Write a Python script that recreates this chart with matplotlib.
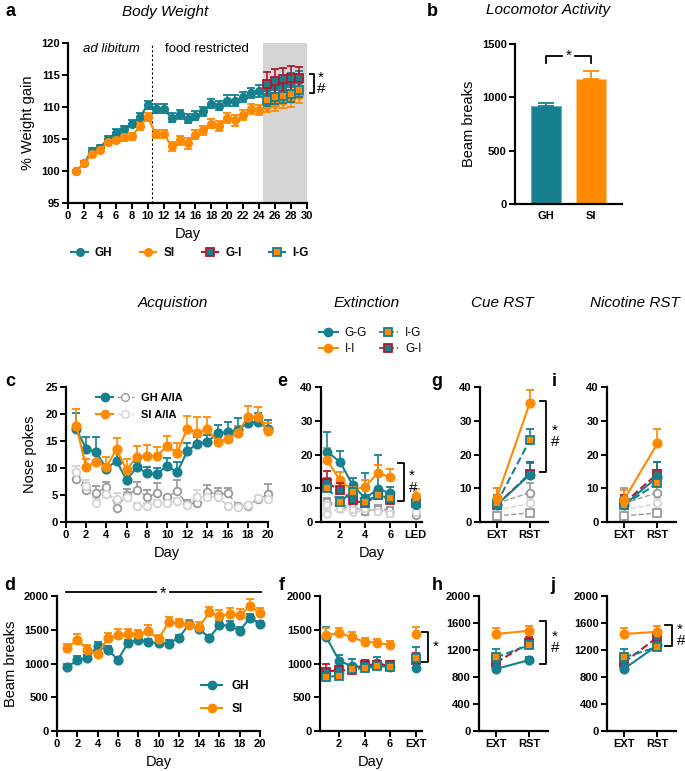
import numpy as np
import matplotlib
matplotlib.use("Agg")
import matplotlib.pyplot as plt
from matplotlib.lines import Line2D
from matplotlib.legend_handler import HandlerTuple

plt.rcParams['font.family'] = ['Liberation Sans', 'DejaVu Sans']

TEAL = '#17808f'
ORANGE = '#ff8a00'
RED = '#b3182d'
GRAY = '#9a9a9a'
LGRAY = '#d4d4d4'

# ---- data -------------------------------------------------------------
# a: body weight
bw_days = list(range(1, 30))
gh_bw = [100.0, 101.2, 103.2, 103.6, 105.0, 106.0, 106.5, 107.4, 108.4, 110.3,
         109.7, 109.7, 108.3, 108.9, 108.2, 108.6, 109.3, 110.5, 110.2, 111.0,
         111.0, 111.6, 112.2, 112.5, 113.0, 113.3, 113.6, 113.9, 114.2]
gh_bw_err = [0.0, 0.3, 0.4, 0.4, 0.5, 0.6, 0.6, 0.6, 0.6, 0.6, 0.7, 0.7, 0.7, 0.7, 0.7,
             0.7, 0.7, 0.7, 0.7, 0.8, 0.8, 0.8, 0.8, 0.9, 1.2, 1.3, 1.3, 1.4, 1.4]
si_bw = [100.0, 101.2, 102.6, 103.3, 104.5, 104.8, 105.3, 105.4, 107.0, 108.4,
         105.8, 105.8, 103.9, 104.8, 104.3, 105.7, 106.4, 107.4, 107.0, 108.3,
         107.9, 108.7, 109.7, 109.5, 110.2, 110.5, 110.9, 111.2, 111.9]
si_bw_err = [0.0, 0.3, 0.4, 0.4, 0.4, 0.5, 0.6, 0.6, 0.6, 0.6, 0.6, 0.6, 0.7, 0.7, 0.8,
             0.7, 0.7, 0.7, 0.8, 0.8, 0.8, 0.8, 0.8, 0.8, 1.0, 1.1, 1.1, 1.2, 1.2]
swap_days = [25, 26, 27, 28, 29]
gi_bw = [113.6, 114.1, 114.3, 114.5, 114.5]
gi_bw_err = [1.9, 1.9, 1.8, 1.9, 1.8]
ig_bw = [111.1, 111.5, 111.7, 112.0, 112.7]
ig_bw_err = [1.0, 1.1, 1.1, 1.2, 1.2]

# b: locomotor activity
loco_groups = ['GH', 'SI']
loco = [915, 1175]
loco_err = [35, 70]

# c: acquisition nose pokes
acq_days = list(range(1, 21))
gh_act = [17.2, 13.6, 12.9, 9.9, 11.3, 7.8, 10.1, 9.1, 8.9, 10.4,
          9.2, 13.1, 14.5, 14.9, 16.4, 16.6, 17.0, 18.4, 18.6, 17.2]
gh_act_err = [3.0, 2.2, 2.8, 0.0, 1.5, 1.5, 1.0, 1.0, 1.1, 1.5,
              2.0, 1.5, 1.2, 1.3, 1.6, 1.9, 2.2, 1.2, 1.5, 1.6]
si_act = [17.8, 10.2, 11.2, 10.2, 13.5, 9.6, 12.1, 12.2, 12.2, 14.1,
          12.8, 17.3, 16.5, 17.2, 14.8, 15.4, 16.5, 19.4, 19.5, 16.9]
si_act_err = [3.2, 1.5, 1.5, 1.8, 2.0, 2.0, 1.9, 2.1, 1.7, 1.8,
              1.8, 2.3, 2.9, 2.3, 1.0, 1.5, 1.2, 2.0, 1.8, 1.5]
gh_inact = [8.0, 5.9, 5.4, 6.5, 2.6, 5.0, 6.0, 4.7, 5.3, 4.6,
            5.7, 3.3, 3.6, 5.6, 5.1, 5.3, 3.0, 3.0, 4.2, 5.2]
gh_inact_err = [1.5, 1.3, 1.2, 1.0, 1.2, 1.2, 1.5, 1.2, 2.0, 0.3,
                2.0, 0.8, 1.0, 1.2, 1.2, 1.0, 0.4, 0.4, 0.5, 1.8]
si_inact = [9.3, 6.7, 3.6, 5.1, 4.3, 4.7, 3.0, 3.0, 3.5, 3.6,
            3.9, 3.1, 4.7, 4.6, 4.7, 3.0, 2.7, 3.1, 4.4, 4.3]
si_inact_err = [1.0, 1.0, 0.8, 0.6, 1.0, 0.8, 0.6, 0.6, 0.5, 0.5,
                0.5, 0.6, 1.2, 1.2, 1.0, 0.5, 0.6, 0.5, 0.5, 0.5]

# d: acquisition beam breaks
gh_beam = [948, 1047, 1086, 1254, 1205, 1057, 1304, 1353, 1314, 1304,
           1294, 1378, 1580, 1516, 1378, 1570, 1560, 1481, 1679, 1580]
gh_beam_err = [40, 60, 40, 60, 50, 40, 50, 40, 50, 40,
               60, 50, 60, 40, 50, 60, 70, 60, 50, 50]
si_beam = [1225, 1353, 1205, 1136, 1373, 1417, 1432, 1432, 1481, 1358,
           1615, 1595, 1570, 1541, 1758, 1699, 1738, 1714, 1847, 1743]
si_beam_err = [60, 80, 70, 50, 80, 90, 80, 60, 90, 60,
               70, 70, 80, 80, 80, 90, 80, 90, 110, 80]

# e: extinction nose pokes (days 1-6, then LED test)
ext_days = [1, 2, 3, 4, 5, 6]
gg_ext = [20.8, 17.8, 11.0, 7.0, 9.8, 8.5]
gg_ext_err = [6.0, 3.2, 2.0, 7.5, 10.0, 2.0]
ii_ext = [18.3, 12.3, 9.5, 10.5, 14.5, 13.3]
ii_ext_err = [3.5, 2.5, 1.5, 2.0, 2.5, 2.5]
ig_ext = [10.0, 6.0, 9.0, 6.0, 8.0, 7.0]
ig_ext_err = [3.0, 1.5, 2.0, 2.0, 2.0, 1.5]
gi_ext = [11.5, 9.5, 6.5, 5.5, 8.0, 6.5]
gi_ext_err = [3.5, 2.0, 1.5, 1.5, 1.5, 1.5]
in_c1_ext = [5.5, 4.5, 4.0, 3.5, 3.5, 3.0]
in_c2_ext = [2.5, 4.0, 3.0, 3.0, 4.0, 3.0]
in_s1_ext = [6.0, 5.0, 4.5, 3.0, 4.0, 3.5]
in_s2_ext = [5.0, 4.0, 3.5, 4.0, 3.0, 2.5]
led_vals = {'gg': 5.0, 'ii': 7.7, 'ig': 5.5, 'gi': 5.5, 'c1': 2.0, 'c2': 3.0}
led_err = {'gg': 2.5, 'ii': 2.0, 'ig': 1.5, 'gi': 1.5, 'c1': 6.0, 'c2': 1.0}

# f: extinction beam breaks
gg_fb = [1390, 1040, 960, 950, 1010, 950]
gg_fb_err = [150, 90, 100, 70, 80, 60]
ii_fb = [1420, 1450, 1390, 1320, 1310, 1270]
ii_fb_err = [100, 80, 70, 60, 60, 60]
ig_fb = [800, 820, 920, 930, 960, 950]
ig_fb_err = [60, 60, 60, 60, 60, 60]
gi_fb = [880, 900, 900, 980, 980, 980]
gi_fb_err = [110, 70, 80, 70, 60, 60]
ext_fb = {'gg': 930, 'ii': 1440, 'ig': 1080, 'gi': 1050}
ext_fb_err = {'gg': 80, 'ii': 100, 'ig': 170, 'gi': 100}

# g / i: reinstatement nose pokes (EXT, RST)
rst_x = ['EXT', 'RST']
cue_ii = [7.0, 35.2]; cue_ii_err = [3.0, 4.0]
cue_ig = [5.5, 24.2]; cue_ig_err = [2.5, 3.5]
cue_gi = [5.0, 14.3]; cue_gi_err = [2.5, 3.5]
cue_gg = [5.0, 14.0]; cue_gg_err = [2.5, 3.5]
cue_c1 = [5.5, 8.7]; cue_c1_err = [4.5, 3.0]
cue_c2 = [3.5, 5.5]; cue_c2_err = [2.0, 1.5]
cue_s1 = [1.8, 2.7]; cue_s1_err = [0.5, 0.5]
nic_ii = [6.5, 23.3]; nic_ii_err = [3.0, 4.3]
nic_ig = [5.0, 11.5]; nic_ig_err = [2.5, 3.0]
nic_gi = [5.5, 14.3]; nic_gi_err = [2.5, 3.5]
nic_gg = [5.0, 13.3]; nic_gg_err = [2.5, 4.5]
nic_c1 = [5.5, 8.7]; nic_c1_err = [4.5, 3.0]
nic_c2 = [3.5, 5.5]; nic_c2_err = [2.0, 1.5]
nic_s1 = [1.8, 2.7]; nic_s1_err = [0.5, 0.5]

# h / j: reinstatement beam breaks
hb_ii = [1437, 1486]; hb_ii_err = [90, 70]
hb_ig = [1090, 1274]; hb_ig_err = [130, 90]
hb_gi = [1012, 1309]; hb_gi_err = [120, 90]
hb_gg = [919, 1052]; hb_gg_err = [60, 50]
jb_ii = [1437, 1470]; jb_ii_err = [90, 80]
jb_ig = [1090, 1245]; jb_ig_err = [130, 80]
jb_gi = [1012, 1390]; jb_gi_err = [120, 80]
jb_gg = [919, 1270]; jb_gg_err = [60, 60]

# ---- styles ------------------------------------------------------------
STY = {
    'gg': dict(color=TEAL, ls='-', marker='o', mfc=TEAL, mec=TEAL, ec=TEAL),
    'ii': dict(color=ORANGE, ls='-', marker='o', mfc=ORANGE, mec=ORANGE, ec=ORANGE),
    'ig': dict(color=TEAL, ls='--', marker='s', mfc=ORANGE, mec=TEAL, ec=TEAL),
    'gi': dict(color=RED, ls='--', marker='s', mfc=TEAL, mec=RED, ec=RED),
    'c1': dict(color=GRAY, ls='--', marker='o', mfc='white', mec=GRAY, ec=GRAY),
    'c2': dict(color=LGRAY, ls='--', marker='o', mfc='white', mec=LGRAY, ec=LGRAY),
    's1': dict(color=GRAY, ls='--', marker='s', mfc='white', mec=GRAY, ec=GRAY),
    's2': dict(color=LGRAY, ls='--', marker='s', mfc='white', mec=LGRAY, ec=LGRAY),
}

W, H = 685, 771
fig = plt.figure(figsize=(W / 100, H / 100), dpi=100)


def add_ax(l, t, r, b):
    return fig.add_axes([l / W, 1 - b / H, (r - l) / W, (b - t) / H])


def series(ax, x, y, err, kind, ms=5.5, lw=1.5, up=True, z=3, ls=None):
    st = STY[kind]
    err = np.asarray(err, dtype=float)
    yerr = [np.zeros_like(err), err] if up else err
    ax.errorbar(x, y, yerr=yerr, color=st['color'], ls=st['ls'] if ls is None else ls,
                lw=lw, marker=st['marker'], ms=ms, mfc=st['mfc'], mec=st['mec'],
                mew=1.3, ecolor=st['ec'], elinewidth=1.2, capsize=3, capthick=1.2,
                zorder=z, clip_on=False)


def prism(ax):
    for s in ['top', 'right']:
        ax.spines[s].set_visible(False)
    for s in ['left', 'bottom']:
        ax.spines[s].set_linewidth(1.6)
    ax.tick_params(width=1.4, length=4, labelsize=8, pad=2)


def bracket(ax, x, y0, y1, txt, dx=0.15, tx=None):
    ax.plot([x - dx, x, x, x - dx], [y0, y0, y1, y1], color='black', lw=1.3, clip_on=False)
    ym = (y0 + y1) / 2
    ax.text(x + (tx if tx is not None else dx * 0.6), ym, txt, ha='left', va='center',
            fontsize=11, linespacing=0.8)


# ---- a: body weight ----------------------------------------------------
ax = add_ax(68, 43, 307, 203)
prism(ax)
ax.axvspan(24.5, 30, color='#d5d5d5', lw=0, zorder=0)
ax.axvline(10.5, color='black', lw=0.8, ls=(0, (2, 2)), zorder=1)
series(ax, bw_days, gh_bw, gh_bw_err, 'gg', ms=5.3, up=False)
series(ax, bw_days, si_bw, si_bw_err, 'ii', ms=5.3, up=False)
series(ax, swap_days, ig_bw, ig_bw_err, 'ig', ms=5.3, up=False, ls='-', z=4)
series(ax, swap_days, gi_bw, gi_bw_err, 'gi', ms=5.3, up=False, ls='-', z=4)
ax.set_xlim(0, 30)
ax.set_ylim(95, 120)
ax.set_xticks(range(0, 31, 2))
ax.set_yticks(range(95, 121, 5))
ax.text(5.5, 119, 'ad libitum', style='italic', ha='center', va='center', fontsize=9.5)
ax.text(17.5, 119, 'food restricted', ha='center', va='center', fontsize=9.5)
ax.set_xlabel('Day', fontsize=10.5)
ax.set_ylabel('% Weight gain', fontsize=10.5, labelpad=4)
bracket(ax, 30.9, 115.2, 112.2, '*\n#', dx=0.5, tx=0.4)

h_leg = [Line2D([], [], color=TEAL, marker='o', ms=5.5, mfc=TEAL, mec=TEAL, lw=1.5),
         Line2D([], [], color=ORANGE, marker='o', ms=5.5, mfc=ORANGE, mec=ORANGE, lw=1.5),
         Line2D([], [], color=RED, marker='s', ms=5.5, mfc=TEAL, mec=RED, mew=1.3, lw=1.5),
         Line2D([], [], color=TEAL, marker='s', ms=5.5, mfc=ORANGE, mec=TEAL, mew=1.3, lw=1.5)]
leg = fig.legend(h_leg, ['GH', 'SI', 'G-I', 'I-G'], loc='center', ncol=4,
                 bbox_to_anchor=(190 / W, 1 - 253 / H), frameon=False, handlelength=1.4,
                 columnspacing=2.3, handletextpad=0.6, prop={'weight': 'bold', 'size': 8.5})

# ---- b: locomotor ------------------------------------------------------
ax = add_ax(515, 44, 622, 204)
prism(ax)
ax.bar([0, 1], loco, width=0.67, color=[TEAL, ORANGE], edgecolor=['#5bb3be', '#ffc27a'], lw=0.8)
for xi, c in zip([0, 1], [TEAL, ORANGE]):
    ax.errorbar([xi], [loco[xi]], yerr=[[0], [loco_err[xi]]], fmt='none', ecolor=c,
                elinewidth=1.3, capsize=6, capthick=1.3)
ax.set_xlim(-0.69, 1.69)
ax.set_ylim(0, 1500)
ax.set_xticks([0, 1])
ax.set_xticklabels(loco_groups)
ax.tick_params(axis='x', length=0, pad=5)
ax.set_yticks([0, 500, 1000, 1500])
ax.set_ylabel('Beam breaks', fontsize=10.5)
ax.plot([0, 0, 0.35], [1325, 1390, 1390], color='black', lw=1.3, clip_on=False)
ax.plot([0.65, 1, 1], [1390, 1390, 1325], color='black', lw=1.3, clip_on=False)
ax.text(0.5, 1385, '*', ha='center', va='center', fontsize=11)

# ---- c: acquisition nose pokes -----------------------------------------
ax = add_ax(66, 387, 268, 522)
prism(ax)
series(ax, acq_days, gh_inact, gh_inact_err, 'c1', ms=5.5, lw=1.0, z=2)
series(ax, acq_days, si_inact, si_inact_err, 'c2', ms=5.5, lw=1.0, z=2)
series(ax, acq_days, gh_act, gh_act_err, 'gg', ms=6)
series(ax, acq_days, si_act, si_act_err, 'ii', ms=6)
ax.set_xlim(0, 20)
ax.set_ylim(0, 25)
ax.set_xticks(range(0, 21, 2))
ax.set_yticks(range(0, 26, 5))
ax.set_xlabel('Day', fontsize=10.5)
ax.set_ylabel('Nose pokes', fontsize=10.5, labelpad=6)
hc = [(Line2D([], [], color=TEAL, marker='o', ms=6, lw=1.5),
       Line2D([], [], color=GRAY, marker='o', ms=5.5, mfc='white', ls='--', lw=1.0)),
      (Line2D([], [], color=ORANGE, marker='o', ms=6, lw=1.5),
       Line2D([], [], color=LGRAY, marker='o', ms=5.5, mfc='white', ls='--', lw=1.0))]
ax.legend(hc, ['GH A/IA', 'SI A/IA'], handler_map={tuple: HandlerTuple(ndivide=None, pad=0.3)},
          loc='upper left', bbox_to_anchor=(0.1, 1.03), frameon=False, handlelength=3.4,
          prop={'weight': 'bold', 'size': 8}, handletextpad=0.6, labelspacing=0.6)

# ---- d: acquisition beam breaks ----------------------------------------
ax = add_ax(57, 596, 260, 731)
prism(ax)
series(ax, acq_days, gh_beam, gh_beam_err, 'gg', ms=6)
series(ax, acq_days, si_beam, si_beam_err, 'ii', ms=6)
ax.set_xlim(0, 20)
ax.set_ylim(0, 2000)
ax.set_xticks(range(0, 21, 2))
ax.set_yticks(range(0, 2001, 500))
ax.set_xlabel('Day', fontsize=10.5)
ax.set_ylabel('Beam breaks', fontsize=10.5)
ax.plot([0.9, 9.8], [2064, 2064], color='black', lw=1.3, clip_on=False)
ax.plot([11.1, 20.1], [2064, 2064], color='black', lw=1.3, clip_on=False)
ax.text(10.45, 2030, '*', ha='center', va='center', fontsize=12)
hd = [Line2D([], [], color=TEAL, marker='o', ms=6, lw=1.5),
      Line2D([], [], color=ORANGE, marker='o', ms=6, lw=1.5)]
ax.legend(hd, ['GH', 'SI'], loc='lower right', bbox_to_anchor=(1.0, 0.04), frameon=False,
          handlelength=1.8, prop={'weight': 'bold', 'size': 8.5}, labelspacing=0.9)

# ---- e: extinction nose pokes ------------------------------------------
ax = add_ax(321, 387, 422, 522)
prism(ax)
for k, vals in [('c1', in_c1_ext), ('c2', in_c2_ext), ('s1', in_s1_ext), ('s2', in_s2_ext)]:
    series(ax, ext_days, vals, [1.0] * 6, k, ms=5, lw=1.0, z=2)
series(ax, ext_days, gg_ext, gg_ext_err, 'gg', ms=5.8)
series(ax, ext_days, ii_ext, ii_ext_err, 'ii', ms=5.8)
series(ax, ext_days, gi_ext, gi_ext_err, 'gi', ms=5.3, z=4)
series(ax, ext_days, ig_ext, ig_ext_err, 'ig', ms=5.3, z=4)
for k in ['c1', 'c2', 'gi', 'ig', 'gg', 'ii']:
    series(ax, [8], [led_vals[k]], [led_err[k]], k, ms=5.3, ls='none')
ax.set_xlim(0.5, 8.5)
ax.set_ylim(0, 40)
ax.set_xticks([2, 4, 6, 8])
ax.set_xticklabels(['2', '4', '6', 'LED'])
ax.set_yticks(range(0, 41, 10))
ax.set_xlabel('Day', fontsize=10.5)
bracket(ax, 7.1, 17.5, 6.2, '*\n#', dx=0.5, tx=0.35)

he = [Line2D([], [], color=TEAL, marker='o', ms=6, lw=1.5),
      Line2D([], [], color=ORANGE, marker='o', ms=6, lw=1.5),
      Line2D([], [], color=TEAL, ls='--', marker='s', ms=5.5, mfc=ORANGE, mec=TEAL, mew=1.3, lw=1.2),
      Line2D([], [], color=RED, ls='--', marker='s', ms=5.5, mfc=TEAL, mec=RED, mew=1.3, lw=1.2)]
fig.legend(he, ['G-G', 'I-I', 'I-G', 'G-I'], loc='center', ncol=2,
           bbox_to_anchor=(370 / W, 1 - 341 / H), frameon=False, handlelength=1.6,
           columnspacing=1.0, handletextpad=0.6, labelspacing=0.4, prop={'size': 8.5})

# ---- f: extinction beam breaks -----------------------------------------
ax = add_ax(320, 596, 422, 731)
prism(ax)
series(ax, ext_days, gg_fb, gg_fb_err, 'gg', ms=5.8)
series(ax, ext_days, ii_fb, ii_fb_err, 'ii', ms=5.8)
series(ax, ext_days, gi_fb, gi_fb_err, 'gi', ms=5.5, z=4)
series(ax, ext_days, ig_fb, ig_fb_err, 'ig', ms=5.5, z=4)
for k in ['gi', 'gg', 'ig', 'ii']:
    series(ax, [8], [ext_fb[k]], [ext_fb_err[k]], k, ms=5.8, ls='none')
ax.set_xlim(0.5, 8.5)
ax.set_ylim(0, 2000)
ax.set_xticks([2, 4, 6, 8])
ax.set_xticklabels(['2', '4', '6', 'EXT'])
ax.set_yticks(range(0, 2001, 500))
ax.set_xlabel('Day', fontsize=10.5)
bracket(ax, 9.0, 1471, 1027, '*', dx=0.5, tx=0.35)

# ---- g / i: reinstatement nose pokes -----------------------------------
for (l, r), d, brk in [((480, 548), dict(ii=(cue_ii, cue_ii_err), ig=(cue_ig, cue_ig_err),
                                          gi=(cue_gi, cue_gi_err), gg=(cue_gg, cue_gg_err),
                                          c1=(cue_c1, cue_c1_err), c2=(cue_c2, cue_c2_err),
                                          s1=(cue_s1, cue_s1_err)), (1.5, 35.9, 14.8)),
                       ((607, 676), dict(ii=(nic_ii, nic_ii_err), ig=(nic_ig, nic_ig_err),
                                          gi=(nic_gi, nic_gi_err), gg=(nic_gg, nic_gg_err),
                                          c1=(nic_c1, nic_c1_err), c2=(nic_c2, nic_c2_err),
                                          s1=(nic_s1, nic_s1_err)), None)]:
    ax = add_ax(l, 387, r, 522)
    prism(ax)
    for k in ['c2', 's1', 'c1']:
        series(ax, [0, 1], d[k][0], d[k][1], k, ms=5.5, lw=1.0, z=2)
    for k in ['gi', 'gg', 'ig', 'ii']:
        series(ax, [0, 1], d[k][0], d[k][1], k, ms=6, z=4)
    ax.set_xlim(-0.5, 1.55)
    ax.set_ylim(0, 40)
    ax.set_xticks([0, 1])
    ax.set_xticklabels(rst_x)
    ax.set_yticks(range(0, 41, 10))
    if brk:
        bracket(ax, brk[0], brk[1], brk[2], '*\n#', dx=0.2, tx=0.15)

# ---- h / j: reinstatement beam breaks ----------------------------------
for (l, r), d, brk in [((479, 548), dict(ii=(hb_ii, hb_ii_err), ig=(hb_ig, hb_ig_err),
                                          gi=(hb_gi, hb_gi_err), gg=(hb_gg, hb_gg_err)),
                        (1.5, 1634, 993)),
                       ((607, 676), dict(ii=(jb_ii, jb_ii_err), ig=(jb_ig, jb_ig_err),
                                          gi=(jb_gi, jb_gi_err), gg=(jb_gg, jb_gg_err)),
                        (1.42, 1570, 1259))]:
    ax = add_ax(l, 596, r, 731)
    prism(ax)
    for k in ['gi', 'gg', 'ig', 'ii']:
        series(ax, [0, 1], d[k][0], d[k][1], k, ms=6, z=4)
    ax.set_xlim(-0.5, 1.55)
    ax.set_ylim(0, 2000)
    ax.set_xticks([0, 1])
    ax.set_xticklabels(rst_x)
    ax.set_yticks(range(0, 2001, 400))
    bracket(ax, brk[0], brk[1], brk[2], '*\n#', dx=0.2, tx=0.15)

for a in fig.axes:
    for lab in a.get_xticklabels() + a.get_yticklabels():
        lab.set_fontweight('bold')

# ---- titles and panel letters -------------------------------------------
for txt, x, y in [('Body Weight', 165, 12), ('Locomotor Activity', 548, 10),
                  ('Acquistion', 173, 303), ('Extinction', 367, 303),
                  ('Cue RST', 502, 303), ('Nicotine RST', 635, 303)]:
    fig.text(x / W, 1 - y / H, txt, style='italic', ha='center', va='center', fontsize=11)
for txt, x, y in [('a', 10, 12), ('b', 432, 12), ('c', 10, 381), ('e', 282, 381),
                  ('g', 437, 381), ('i', 554, 381), ('d', 10, 585), ('f', 282, 585),
                  ('h', 437, 585), ('j', 553, 585)]:
    fig.text(x / W, 1 - y / H, txt, weight='bold', ha='center', va='center', fontsize=13)

fig.savefig('out.png', dpi=100)
